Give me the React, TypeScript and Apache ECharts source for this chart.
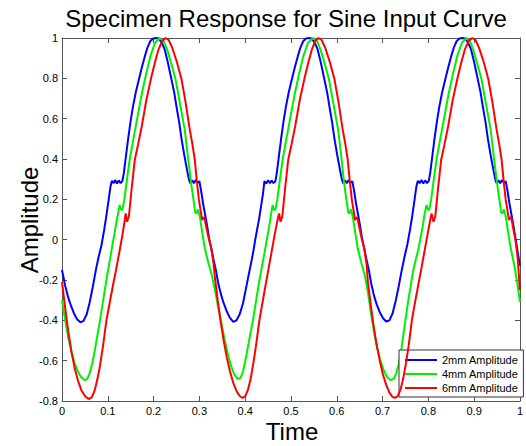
import React, { useEffect, useRef } from "react";
import * as echarts from "echarts";

const chartTitle = "Specimen Response for Sine Input Curve";
const xAxisName = "Time";
const yAxisName = "Amplitude";
const seriesNames = ["2mm Amplitude", "4mm Amplitude", "6mm Amplitude"];
const seriesColors = ["#0000ff", "#00f000", "#ff0000"];
const xRange = [0, 1, 0.1];
const yRange = [-0.8, 1, 0.2];

// 2mm Amplitude (blue), read per cycle
const blueCycle1 = [
  [0.000,-0.150],[0.007,-0.230],[0.014,-0.290],[0.020,-0.330],[0.027,-0.370],[0.033,-0.395],[0.040,-0.410],[0.047,-0.403],[0.054,-0.370],[0.060,-0.315],[0.067,-0.237],[0.074,-0.150],[0.080,-0.085],[0.086,-0.030],[0.092,0.047],[0.097,0.120],[0.102,0.200],[0.106,0.265],[0.109,0.292],[0.113,0.280],[0.116,0.296],[0.120,0.278],[0.124,0.294],[0.128,0.280],[0.132,0.292],[0.135,0.330],[0.140,0.420],[0.145,0.510],[0.150,0.590],[0.155,0.660],[0.161,0.730],[0.168,0.795],[0.175,0.860],[0.181,0.910],[0.187,0.955],[0.193,0.985],[0.199,0.998],[0.205,1.000],[0.211,0.998],[0.217,0.980],[0.224,0.945],[0.231,0.880],[0.239,0.795],[0.245,0.730],[0.250,0.660],[0.256,0.580],[0.261,0.500],[0.267,0.420],[0.273,0.346],[0.277,0.300],[0.280,0.280],[0.284,0.295],[0.288,0.280],[0.292,0.296],[0.296,0.282],[0.300,0.290],[0.304,0.240],[0.308,0.180],[0.312,0.130],[0.316,0.080],[0.321,0.010],[0.326,-0.044],[0.331,-0.100]
];
const blueCycle2 = [
  [0.336,-0.150],[0.341,-0.215],[0.347,-0.270],[0.353,-0.315],[0.359,-0.351],[0.366,-0.385],[0.374,-0.408],[0.381,-0.400],[0.388,-0.370],[0.395,-0.318],[0.401,-0.250],[0.408,-0.170],[0.413,-0.115],[0.417,-0.069],[0.422,0.000],[0.426,0.050],[0.430,0.097],[0.435,0.170],[0.439,0.230],[0.442,0.290],[0.446,0.278],[0.450,0.295],[0.454,0.280],[0.458,0.293],[0.462,0.280],[0.466,0.290],[0.469,0.330],[0.474,0.420],[0.479,0.510],[0.484,0.590],[0.489,0.660],[0.495,0.730],[0.502,0.795],[0.509,0.860],[0.515,0.910],[0.521,0.955],[0.527,0.985],[0.533,0.998],[0.539,1.000],[0.545,0.998],[0.551,0.980],[0.558,0.945],[0.565,0.880],[0.573,0.795],[0.579,0.730],[0.584,0.660],[0.590,0.580],[0.595,0.500],[0.601,0.420],[0.607,0.346],[0.611,0.300],[0.614,0.280],[0.618,0.295],[0.622,0.280],[0.626,0.296],[0.630,0.282],[0.634,0.290],[0.638,0.240],[0.642,0.180],[0.646,0.130],[0.650,0.080],[0.655,0.010],[0.660,-0.044],[0.665,-0.100]
];
const blueCycle3 = [
  [0.670,-0.150],[0.675,-0.215],[0.681,-0.275],[0.687,-0.320],[0.694,-0.360],[0.701,-0.390],[0.708,-0.406],[0.715,-0.400],[0.722,-0.365],[0.729,-0.300],[0.735,-0.235],[0.742,-0.150],[0.748,-0.085],[0.754,-0.025],[0.760,0.050],[0.765,0.120],[0.770,0.200],[0.774,0.265],[0.777,0.292],[0.781,0.280],[0.785,0.296],[0.789,0.278],[0.793,0.294],[0.797,0.280],[0.801,0.292],[0.804,0.330],[0.809,0.420],[0.814,0.510],[0.819,0.590],[0.824,0.660],[0.830,0.730],[0.837,0.795],[0.844,0.860],[0.850,0.910],[0.856,0.955],[0.862,0.985],[0.868,0.998],[0.874,1.000],[0.880,0.998],[0.886,0.980],[0.893,0.945],[0.900,0.880],[0.908,0.795],[0.914,0.730],[0.919,0.660],[0.925,0.580],[0.930,0.500],[0.936,0.420],[0.942,0.346],[0.946,0.300],[0.949,0.280],[0.953,0.295],[0.957,0.280],[0.961,0.296],[0.965,0.282],[0.969,0.290],[0.973,0.240],[0.977,0.180],[0.981,0.130],[0.985,0.080],[0.990,0.010],[0.995,-0.060],[1.000,-0.130]
];

// 4mm Amplitude (green)
const greenCycle1 = [
  [0.000,-0.300],[0.007,-0.400],[0.014,-0.490],[0.021,-0.560],[0.028,-0.615],[0.035,-0.655],[0.042,-0.683],[0.050,-0.697],[0.055,-0.690],[0.060,-0.665],[0.066,-0.615],[0.072,-0.545],[0.078,-0.465],[0.083,-0.400],[0.090,-0.300],[0.097,-0.200],[0.103,-0.120],[0.108,-0.055],[0.113,0.010],[0.118,0.075],[0.122,0.125],[0.126,0.172],[0.129,0.150],[0.132,0.148],[0.136,0.197],[0.142,0.300],[0.148,0.400],[0.156,0.500],[0.165,0.610],[0.174,0.720],[0.183,0.815],[0.193,0.910],[0.203,0.975],[0.213,1.000],[0.222,0.985],[0.230,0.940],[0.239,0.870],[0.248,0.795],[0.258,0.670],[0.268,0.546],[0.275,0.410],[0.282,0.280],[0.287,0.200],[0.291,0.135],[0.294,0.130],[0.297,0.150],[0.301,0.114],[0.306,0.040],[0.312,-0.044],[0.319,-0.110],[0.327,-0.175]
];
const greenCycle2 = [
  [0.334,-0.250],[0.341,-0.335],[0.348,-0.410],[0.355,-0.495],[0.362,-0.566],[0.369,-0.625],[0.376,-0.668],[0.384,-0.692],[0.390,-0.685],[0.395,-0.655],[0.400,-0.605],[0.405,-0.545],[0.411,-0.470],[0.417,-0.400],[0.424,-0.300],[0.432,-0.190],[0.442,-0.069],[0.448,0.010],[0.452,0.060],[0.456,0.120],[0.460,0.172],[0.463,0.148],[0.466,0.150],[0.470,0.197],[0.476,0.300],[0.482,0.400],[0.490,0.500],[0.499,0.610],[0.508,0.720],[0.517,0.815],[0.527,0.910],[0.537,0.975],[0.548,1.000],[0.557,0.985],[0.565,0.940],[0.574,0.870],[0.583,0.795],[0.593,0.670],[0.603,0.546],[0.610,0.410],[0.616,0.280],[0.621,0.200],[0.625,0.135],[0.628,0.130],[0.631,0.150],[0.635,0.114],[0.640,0.040],[0.646,-0.044],[0.653,-0.110],[0.661,-0.175]
];
const greenCycle3 = [
  [0.668,-0.260],[0.675,-0.370],[0.682,-0.465],[0.689,-0.545],[0.696,-0.605],[0.703,-0.650],[0.710,-0.682],[0.718,-0.697],[0.725,-0.688],[0.730,-0.662],[0.735,-0.620],[0.740,-0.560],[0.748,-0.430],[0.757,-0.290],[0.767,-0.152],[0.773,-0.095],[0.778,-0.050],[0.783,0.010],[0.788,0.070],[0.792,0.130],[0.796,0.172],[0.799,0.150],[0.802,0.148],[0.806,0.197],[0.812,0.300],[0.818,0.400],[0.826,0.500],[0.835,0.610],[0.844,0.720],[0.853,0.815],[0.863,0.910],[0.873,0.975],[0.883,1.000],[0.891,0.985],[0.898,0.940],[0.907,0.870],[0.916,0.795],[0.926,0.670],[0.936,0.546],[0.943,0.410],[0.950,0.280],[0.955,0.200],[0.959,0.135],[0.962,0.130],[0.965,0.150],[0.969,0.114],[0.974,0.040],[0.980,-0.044],[0.987,-0.120],[0.994,-0.210],[1.000,-0.310]
];

// 6mm Amplitude (red)
const redCycle1 = [
  [0.000,-0.210],[0.007,-0.340],[0.014,-0.460],[0.021,-0.560],[0.028,-0.640],[0.035,-0.700],[0.042,-0.745],[0.050,-0.775],[0.058,-0.790],[0.065,-0.782],[0.071,-0.750],[0.077,-0.695],[0.083,-0.625],[0.090,-0.520],[0.097,-0.400],[0.104,-0.315],[0.111,-0.230],[0.118,-0.150],[0.125,-0.065],[0.131,0.010],[0.136,0.080],[0.139,0.130],[0.142,0.089],[0.146,0.114],[0.152,0.250],[0.159,0.396],[0.166,0.470],[0.174,0.560],[0.184,0.690],[0.194,0.795],[0.203,0.880],[0.211,0.945],[0.219,0.985],[0.226,1.000],[0.233,0.990],[0.241,0.950],[0.251,0.880],[0.261,0.795],[0.270,0.680],[0.279,0.546],[0.285,0.470],[0.290,0.396],[0.294,0.300],[0.299,0.197],[0.303,0.140],[0.306,0.097],[0.309,0.112],[0.312,0.100],[0.314,0.072],[0.320,0.010],[0.326,-0.044],[0.331,-0.120]
];
const redCycle2 = [
  [0.334,-0.190],[0.340,-0.300],[0.346,-0.400],[0.353,-0.500],[0.360,-0.585],[0.367,-0.655],[0.374,-0.710],[0.381,-0.750],[0.388,-0.775],[0.394,-0.785],[0.400,-0.777],[0.406,-0.745],[0.412,-0.690],[0.418,-0.610],[0.424,-0.520],[0.431,-0.400],[0.438,-0.310],[0.445,-0.220],[0.451,-0.145],[0.457,-0.069],[0.464,0.020],[0.470,0.090],[0.474,0.130],[0.477,0.089],[0.481,0.114],[0.487,0.250],[0.494,0.396],[0.501,0.470],[0.509,0.560],[0.519,0.690],[0.529,0.795],[0.538,0.880],[0.546,0.945],[0.553,0.985],[0.560,1.000],[0.567,0.990],[0.575,0.950],[0.585,0.880],[0.595,0.795],[0.604,0.680],[0.613,0.546],[0.619,0.470],[0.624,0.396],[0.628,0.300],[0.633,0.197],[0.637,0.140],[0.640,0.097],[0.643,0.112],[0.646,0.100],[0.648,0.072],[0.654,0.010],[0.660,-0.044],[0.665,-0.120]
];
const redCycle3 = [
  [0.668,-0.210],[0.674,-0.320],[0.680,-0.420],[0.687,-0.520],[0.694,-0.600],[0.701,-0.670],[0.708,-0.720],[0.715,-0.758],[0.721,-0.778],[0.727,-0.785],[0.733,-0.776],[0.739,-0.745],[0.745,-0.690],[0.751,-0.615],[0.757,-0.525],[0.764,-0.400],[0.771,-0.310],[0.778,-0.225],[0.785,-0.140],[0.791,-0.065],[0.797,0.010],[0.803,0.085],[0.807,0.130],[0.811,0.089],[0.815,0.114],[0.821,0.250],[0.828,0.396],[0.835,0.470],[0.843,0.560],[0.853,0.690],[0.863,0.795],[0.872,0.880],[0.880,0.945],[0.888,0.985],[0.896,1.000],[0.903,0.990],[0.911,0.950],[0.921,0.880],[0.931,0.795],[0.940,0.680],[0.949,0.546],[0.955,0.470],[0.960,0.396],[0.964,0.300],[0.969,0.197],[0.973,0.140],[0.976,0.097],[0.979,0.112],[0.982,0.100],[0.984,0.072],[0.990,0.000],[0.995,-0.090],[1.000,-0.250]
];

const series2mm = [...blueCycle1, ...blueCycle2, ...blueCycle3];
const series4mm = [...greenCycle1, ...greenCycle2, ...greenCycle3];
const series6mm = [...redCycle1, ...redCycle2, ...redCycle3];
const allSeries = [series2mm, series4mm, series6mm];

const FONT = '"Liberation Sans", Arial, Helvetica, sans-serif';
const AXIS_COLOR = "#555";

function axisBase(min: number, max: number, interval: number, position: string, labels: boolean) {
  return {
    type: "value",
    min,
    max,
    interval,
    position,
    axisLine: { show: true, onZero: false, lineStyle: { color: AXIS_COLOR, width: 1 } },
    axisTick: { show: true, inside: true, length: 5, lineStyle: { color: AXIS_COLOR } },
    axisLabel: {
      show: labels,
      color: "#000",
      fontSize: 11,
      fontFamily: FONT,
      margin: 4,
    },
    splitLine: { show: false },
  };
}

export default function App() {
  const ref = useRef<HTMLDivElement>(null);
  useEffect(() => {
    if (!ref.current) return;
    const chart = echarts.init(ref.current, undefined, { renderer: "svg" });
    chart.setOption({
      animation: false,
      backgroundColor: "#fff",
      grid: { left: 62, right: 5, top: 38, bottom: 45, containLabel: false },
      xAxis: [
        axisBase(xRange[0], xRange[1], xRange[2], "bottom", true),
        axisBase(xRange[0], xRange[1], xRange[2], "top", false),
      ],
      yAxis: [
        axisBase(yRange[0], yRange[1], yRange[2], "left", true),
        axisBase(yRange[0], yRange[1], yRange[2], "right", false),
      ],
      legend: {
        data: seriesNames,
        orient: "vertical",
        left: 399,
        top: 350,
        icon: "rect",
        itemWidth: 32,
        itemHeight: 2,
        itemGap: 0,
        padding: [3, 5, 2, 6],
        borderColor: "#333",
        borderWidth: 1,
        borderRadius: 0,
        backgroundColor: "#fff",
        textStyle: { color: "#000", fontSize: 11, fontFamily: FONT, lineHeight: 14 },
      },
      graphic: [
        {
          type: "text",
          x: 286,
          y: 18,
          style: {
            text: chartTitle,
            font: `24px ${FONT}`,
            fill: "#000",
            textAlign: "center",
            textVerticalAlign: "middle",
            align: "center",
            verticalAlign: "middle",
          },
        },
        {
          type: "text",
          x: 292,
          y: 431,
          style: {
            text: xAxisName,
            font: `24px ${FONT}`,
            fill: "#000",
            textAlign: "center",
            textVerticalAlign: "middle",
            align: "center",
            verticalAlign: "middle",
          },
        },
        {
          type: "text",
          x: 29,
          y: 220,
          rotation: Math.PI / 2,
          style: {
            text: yAxisName,
            font: `24px ${FONT}`,
            fill: "#000",
            textAlign: "center",
            textVerticalAlign: "middle",
            align: "center",
            verticalAlign: "middle",
          },
        },
      ],
      series: allSeries.map((d, i) => ({
        name: seriesNames[i],
        type: "line",
        xAxisIndex: 0,
        yAxisIndex: 0,
        data: d,
        symbol: "none",
        showSymbol: false,
        smooth: false,
        clip: true,
        color: seriesColors[i],
        lineStyle: { color: seriesColors[i], width: 2 },
        z: 2 + i,
      })),
    });
    return () => chart.dispose();
  }, []);
  return (
    <div
      ref={ref}
      style={{ position: "fixed", left: 0, top: 0, width: 526, height: 446, background: "#fff" }}
    />
  );
}
